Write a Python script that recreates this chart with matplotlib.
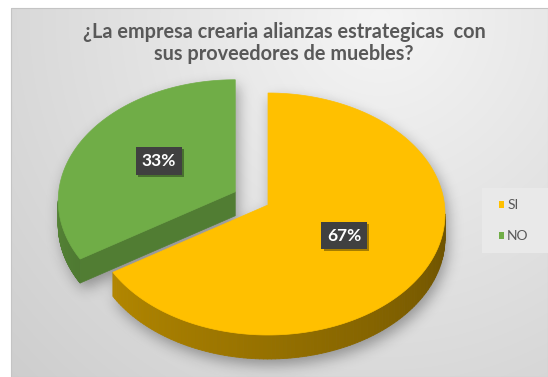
import matplotlib.pyplot as plt
import numpy as np
from matplotlib.path import Path
from matplotlib.patches import Polygon, Rectangle, Patch
from matplotlib.collections import PolyCollection
from matplotlib import patheffects
from matplotlib.colors import to_rgb

labels = ['SI', 'NO']
values = [67, 33]
colors = ['#FFC000', '#70AD47']
explode = [0.0, 0.215]
title_lines = ['¿La empresa crearia alianzas estrategicas  con',
               'sus proveedores de muebles?']

W, H = 548, 377
cx, cy = 268, 214      # centro de la elipse (cara superior)
a, b = 177, 121        # semiejes
apex_dy = -9           # el vertice queda un poco arriba por la perspectiva
depth = 24             # grosor del pastel en px

plt.rcParams['font.family'] = ['Lato', 'DejaVu Sans']

fig = plt.figure(figsize=(W / 100, H / 100), dpi=100)
ax = fig.add_axes([0, 0, 1, 1])

# fondo gris con degradado radial
x0, y0 = 11, 8
yy, xx = np.mgrid[y0:H, x0:W] + 0.5
r = np.hypot(xx - 380, yy - 20)
g = np.clip(0.96 - 3e-4 * r, 0, 1)
ax.imshow(np.dstack([g, g, g]), extent=(x0, W, H, y0), zorder=0,
          interpolation='bilinear', aspect='auto')
ax.add_patch(Rectangle((x0, y0), W - x0, H - y0, fill=False,
                       ec='#c4c4c4', lw=0.8, zorder=0.5))


def rim(t, ox, oy, dz=0.0):
    return ox + a * np.sin(t), oy - b * np.cos(t) + dz


def shade(c, f):
    return tuple(np.clip(np.array(to_rgb(c)) * f, 0, 1))


def side_factor(t):
    # luz desde la izquierda: el lateral izquierdo es mas claro
    return 0.42 + 0.28 * np.clip((t - np.pi / 2) / (np.radians(241) - np.pi / 2), 0, 1.2)


total = sum(values)
angles = np.cumsum([0] + [2 * np.pi * v / total for v in values])

slices = []
for i, (lab, v, col) in enumerate(zip(labels, values, colors)):
    t1, t2 = angles[i], angles[i + 1]
    m = 0.5 * (t1 + t2)
    ox = cx + explode[i] * a * np.sin(m)
    oy = cy - explode[i] * b * np.cos(m)
    apex = (ox, oy + apex_dy)
    ts = np.linspace(t1, t2, 240)
    rx, ry = rim(ts, ox, oy)
    top = np.vstack([[apex], np.column_stack([rx, ry])])
    slices.append(dict(t1=t1, t2=t2, m=m, ox=ox, oy=oy, apex=apex, top=top,
                       col=col, v=v, lab=lab))

# sombra difusa bajo el pastel
gy, gx = np.mgrid[0:H, 0:W] + 0.5
pts = np.column_stack([gx.ravel(), gy.ravel()])
mask = np.zeros(H * W, dtype=bool)
for s in slices:
    for dz in np.linspace(0, depth, 5):
        mask |= Path(s['top'] + [0, dz]).contains_points(pts)
mask = mask.reshape(H, W).astype(float)
mask = np.roll(np.roll(mask, 6, axis=0), 3, axis=1)
sig = 7
k = np.exp(-0.5 * (np.arange(-3 * sig, 3 * sig + 1) / sig) ** 2)
k /= k.sum()
mask = np.apply_along_axis(lambda v: np.convolve(v, k, 'same'), 0, mask)
mask = np.apply_along_axis(lambda v: np.convolve(v, k, 'same'), 1, mask)
sh = np.zeros((H, W, 4))
sh[..., 3] = 0.34 * mask
ax.imshow(sh, extent=(0, W, H, 0), zorder=1, interpolation='bilinear', aspect='auto')

# las porciones de atras se dibujan primero
z = 2
for s in sorted(slices, key=lambda s: s['apex'][1]):
    ox, oy, apex, col = s['ox'], s['oy'], s['apex'], s['col']
    # lateral curvo visible (mitad frontal)
    lo, hi = max(s['t1'], np.pi / 2), min(s['t2'], 3 * np.pi / 2)
    if hi > lo:
        ts = np.linspace(lo, hi, 120)
        quads, fcs = [], []
        for ta, tb in zip(ts[:-1], ts[1:]):
            ax_, ay_ = rim(ta, ox, oy)
            bx_, by_ = rim(tb, ox, oy)
            quads.append([(ax_, ay_), (bx_, by_), (bx_, by_ + depth), (ax_, ay_ + depth)])
            fcs.append(shade(col, side_factor(0.5 * (ta + tb))))
        ax.add_collection(PolyCollection(quads, facecolors=fcs, edgecolors=fcs,
                                         linewidths=0.6, zorder=z))
    # caras de corte
    for t, vis in ((s['t1'], np.sin(s['t1']) < -1e-6), (s['t2'], np.sin(s['t2']) > 1e-6)):
        if vis:
            rx, ry = rim(t, ox, oy)
            face = [apex, (rx, ry), (rx, ry + depth), (apex[0], apex[1] + depth)]
            ax.add_patch(Polygon(face, closed=True, fc=shade(col, 0.72),
                                 ec=shade(col, 0.72), lw=0.5, zorder=z))
    ax.add_patch(Polygon(s['top'], closed=True, fc=col, ec=col, lw=0.5, zorder=z + 0.5))
    z += 1

# etiquetas de porcentaje
for s in slices:
    lx = s['apex'][0] + 0.5 * a * np.sin(s['m'])
    ly = s['apex'][1] - 0.5 * b * np.cos(s['m'])
    t = ax.text(lx, ly, f"{100 * s['v'] / total:.0f}%", color='white', fontsize=12.5,
                fontweight='bold', ha='center', va='center', zorder=10,
                bbox=dict(boxstyle='square,pad=0.32', fc='#404040', ec='none'))
    t.get_bbox_patch().set_path_effects([
        patheffects.withSimplePatchShadow(offset=(1.5, -1.5), shadow_rgbFace='black', alpha=0.35),
        patheffects.Normal()])

# titulo
for j, line in enumerate(title_lines):
    ax.text(284, 38 + 21.5 * j, line, ha='center', va='baseline', fontsize=14.3,
            fontweight='bold', color='#595959', zorder=10)

# leyenda
ax.add_patch(Rectangle((482, 188), W - 482, 65, fc='#e9e9e9', ec='none', zorder=9))
handles = [Patch(facecolor=c, edgecolor='none', label=l) for l, c in zip(labels, colors)]
leg = ax.legend(handles=handles, loc='center left', bbox_to_anchor=(498.5 / W, 1 - 220.8 / H),
                frameon=False, fontsize=10, labelcolor='#595959', borderpad=0,
                borderaxespad=0, handlelength=0.42, handleheight=0.42,
                handletextpad=0.2, labelspacing=1.35)
leg.set_zorder(11)

ax.set_xlim(0, W)
ax.set_ylim(H, 0)
ax.axis('off')
fig.savefig('out.png', dpi=100, facecolor='white')
